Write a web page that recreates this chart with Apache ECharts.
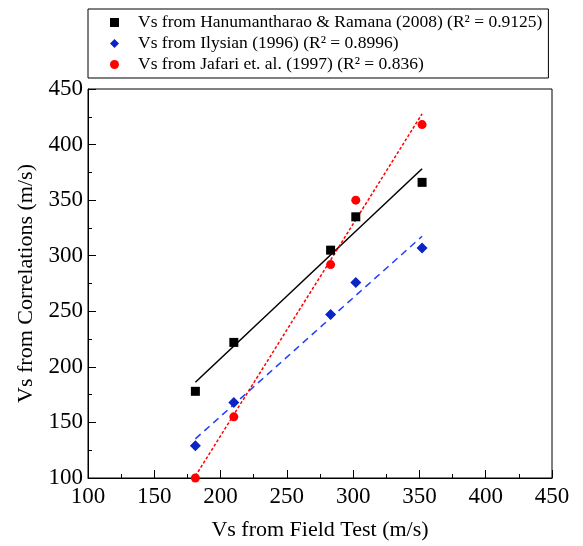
<!DOCTYPE html>
<html>
<head>
<meta charset="utf-8">
<script src="https://cdn.jsdelivr.net/npm/echarts@6/dist/echarts.min.js"></script>
<style>html,body{margin:0;padding:0;background:#fff;}#c{width:583px;height:546px;}</style>
</head>
<body>
<div id="c"></div>
<script>
// Data
var fieldVs = [181, 210, 283, 302, 352];
var hanumanVs = [178, 222, 305, 335, 366];
var ilysianVs = [129, 168, 247, 276, 307];
var jafariVs = [100, 155, 292, 350, 418];
var seriesNames = [
  'Vs from Hanumantharao & Ramana (2008) (R\u00b2 = 0.9125)',
  'Vs from Ilysian (1996) (R\u00b2 = 0.8996)',
  'Vs from Jafari et. al. (1997) (R\u00b2 = 0.836)'
];
var axisTicks = [100, 150, 200, 250, 300, 350, 400, 450];

function pairs(xs, ys){ return xs.map(function(x,i){return [x, ys[i]];}); }
// least squares trend line across the data range
function fit(xs, ys){
  var n = xs.length, mx = 0, my = 0;
  for (var i=0;i<n;i++){ mx += xs[i]; my += ys[i]; }
  mx /= n; my /= n;
  var sxy = 0, sxx = 0;
  for (var j=0;j<n;j++){ sxy += (xs[j]-mx)*(ys[j]-my); sxx += (xs[j]-mx)*(xs[j]-mx); }
  var b = sxy/sxx, a = my - b*mx;
  var x0 = Math.min.apply(null, xs), x1 = Math.max.apply(null, xs);
  return [[x0, a + b*x0], [x1, a + b*x1]];
}

var font = "'Liberation Serif', 'Times New Roman', serif";
var chart = echarts.init(document.getElementById('c'), null, {renderer:'canvas'});

function axis(name, gap, margin){
  return {
    type: 'value', min: axisTicks[0], max: axisTicks[axisTicks.length-1], interval: 50,
    name: name, nameLocation: 'middle', nameGap: gap,
    nameTextStyle: {fontFamily: font, fontSize: 22, color: '#000'},
    axisLine: {show: true, lineStyle: {color: '#000', width: 1}},
    axisTick: {show: true, inside: true, length: 8, lineStyle: {color: '#000'}},
    minorTick: {show: true, splitNumber: 2, length: 4, lineStyle: {color: '#000'}},
    axisLabel: {fontFamily: font, fontSize: 23, color: '#000', margin: margin},
    splitLine: {show: false}
  };
}

chart.setOption({
  animation: false,
  backgroundColor: '#fff',
  grid: {left: 88, right: 31, top: 89, bottom: 64, show: true, borderColor: '#000', borderWidth: 1},
  xAxis: axis('Vs from Field Test (m/s)', 41, 7),
  yAxis: axis('Vs from Correlations (m/s)', 49, 5),
  legend: {
    left: 88, top: 9, orient: 'vertical',
    borderColor: '#000', borderWidth: 1,
    padding: [3, 6, 3, 22], itemGap: 0,
    itemWidth: 9, itemHeight: 9,
    textStyle: {fontFamily: font, fontSize: 17.5, lineHeight: 21, color: '#000', padding: [0,0,0,14]},
    data: [
      {name: seriesNames[0], icon: 'rect'},
      {name: seriesNames[1], icon: 'diamond'},
      {name: seriesNames[2], icon: 'circle'}
    ]
  },
  series: [
    {type: 'line', data: fit(fieldVs, hanumanVs), showSymbol: false, silent: true,
      lineStyle: {color: '#000', width: 1.5, type: 'solid'}, z: 1},
    {type: 'line', data: fit(fieldVs, ilysianVs), showSymbol: false, silent: true,
      lineStyle: {color: '#1f3cff', width: 1.5, type: [7, 5]}, z: 1},
    {type: 'line', data: fit(fieldVs, jafariVs), showSymbol: false, silent: true,
      lineStyle: {color: '#ff0000', width: 1.5, type: [3, 2]}, z: 1},
    {name: seriesNames[0], type: 'scatter', data: pairs(fieldVs, hanumanVs), symbol: 'rect', symbolSize: 9,
      itemStyle: {color: '#000', opacity: 1}, z: 3},
    {name: seriesNames[1], type: 'scatter', data: pairs(fieldVs, ilysianVs), symbol: 'diamond', symbolSize: 11,
      itemStyle: {color: '#0a24c8', opacity: 1}, z: 3},
    {name: seriesNames[2], type: 'scatter', data: pairs(fieldVs, jafariVs), symbol: 'circle', symbolSize: 9,
      itemStyle: {color: '#ff0000', opacity: 1}, z: 3}
  ]
});
</script>
</body>
</html>
